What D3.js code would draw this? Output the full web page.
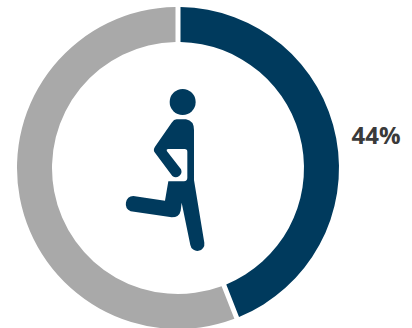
<!DOCTYPE html>
<html>
<head>
<meta charset="utf-8">
<script src="https://cdn.jsdelivr.net/npm/d3@7"></script>
<style>
  html, body { margin: 0; padding: 0; background: #fff; }
  svg { display: block; }
</style>
</head>
<body>
<div id="chart"></div>
<script>
// Share of people in the highlighted group and the remainder
const categories = ["Active", "Other"];
const values = [44, 56];
const colours = ["#003a5d", "#a9a9a9"];
const labelText = "44%";

const width = 412, height = 328;
const cx = 178, cy = 168, outerR = 161, innerR = 126;
const gap = 5;

const svg = d3.select("#chart").append("svg")
  .attr("width", width)
  .attr("height", height)
  .attr("viewBox", [0, 0, width, height]);

const pie = d3.pie().sort(null).value(d => d.value).padAngle(gap / outerR);
const arc = d3.arc().innerRadius(innerR).outerRadius(outerR).padRadius(outerR);
const colour = d3.scaleOrdinal().domain(categories).range(colours);

const ring = svg.append("g").attr("transform", `translate(${cx},${cy})`);
ring.selectAll("path")
  .data(pie(categories.map((c, i) => ({ category: c, value: values[i] }))))
  .join("path")
  .attr("d", arc)
  .attr("fill", d => colour(d.data.category));

// Running figure in the middle of the ring
const figure = svg.append("g")
  .attr("transform", "translate(110,80) scale(0.3333)")
  .attr("fill", colours[0]);
figure.append("circle").attr("cx", 218).attr("cy", 66).attr("r", 39);
figure.append("path").attr("d",
  "M200,118 H228 Q252,122 252,150 V300 L283,488 A21,21 0 0 1 241,495 L215,368 L212,392 " +
  "Q208,412 185,412 L62,394 A24,24 0 0 1 70,348 L165,362 L175,304 H222 Q232,303 232,293 " +
  "V215 Q232,207 224,207 H175 Q168,207 171,214 L213,268 A17,17 0 0 1 187,288 L135,218 " +
  "Q128,210 135,200 L185,128 Q192,118 200,118 Z");

svg.append("text")
  .attr("x", 376)
  .attr("y", 144)
  .attr("text-anchor", "middle")
  .attr("font-family", "'Open Sans', sans-serif")
  .attr("font-weight", 700)
  .attr("font-size", 24)
  .attr("fill", "#3a3a3a")
  .text(labelText);
</script>
</body>
</html>
